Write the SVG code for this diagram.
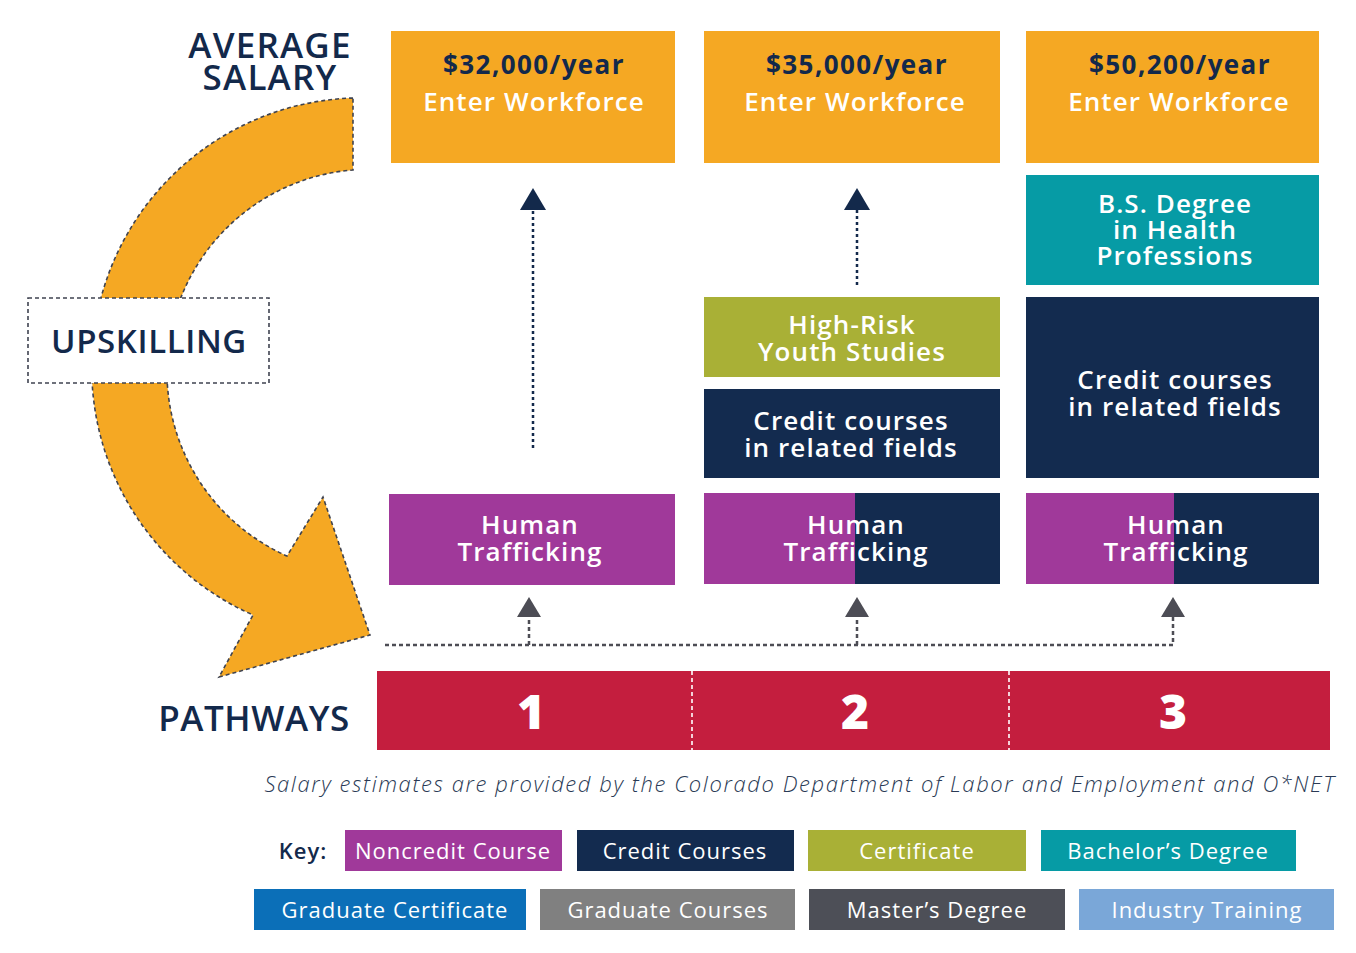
<svg xmlns="http://www.w3.org/2000/svg" width="1356" height="953" viewBox="0 0 1356 953">
<style>
text{font-family:"Open Sans","Liberation Sans",sans-serif;}
.head{fill:#13294B;font-size:35px;font-weight:600;text-anchor:middle;letter-spacing:1.2px}
.w{fill:#fff;font-size:26px;font-weight:600;text-anchor:middle;letter-spacing:1.1px}
.wb{fill:#13294B;font-size:26px;font-weight:700;text-anchor:middle;letter-spacing:1.4px}
.num{fill:#fff;font-size:48px;font-weight:800;text-anchor:middle}
.key{fill:#fff;font-size:22px;font-weight:500;text-anchor:middle;letter-spacing:1px}
.dash{fill:none;stroke:#3F4350;stroke-width:1.6;stroke-dasharray:4 3}
.gline{fill:none;stroke:#4D4D55;stroke-width:2.5;stroke-dasharray:4 3}
.nline{fill:none;stroke:#13294B;stroke-width:2.5;stroke-dasharray:3 3}
</style>
<rect width="1356" height="953" fill="#fff"/>

<g id="upskill-arrow">
<path d="M353,98 A270,270 0 0 0 253,615 L219,677 L370,635 L323,497 L287,556 A202,202 0 0 1 353,170 Z" class="dash" style="fill:#F5A823"/>
</g>
<g id="upskilling">
<rect x="28" y="298" width="241" height="85" class="dash" style="fill:#fff"/>
<text x="149" y="353" class="head" style="font-size:33px;letter-spacing:0.6px">UPSKILLING</text>
</g>
<g id="labels">
<text x="270" y="58" class="head">AVERAGE</text>
<text x="270" y="90" class="head">SALARY</text>
<text x="254" y="731" class="head" style="letter-spacing:0.6px">PATHWAYS</text>
</g>

<g id="salary1"><rect x="391" y="31" width="284" height="132" fill="#F5A823"/>
<text x="534" y="74" class="wb">$32,000/year</text><text x="534" y="111" class="w">Enter Workforce</text></g>
<g id="salary2"><rect x="704" y="31" width="296" height="132" fill="#F5A823"/>
<text x="857" y="74" class="wb">$35,000/year</text><text x="855" y="111" class="w">Enter Workforce</text></g>
<g id="salary3"><rect x="1026" y="31" width="293" height="132" fill="#F5A823"/>
<text x="1180" y="74" class="wb">$50,200/year</text><text x="1179" y="111" class="w">Enter Workforce</text></g>

<g id="bs-degree"><rect x="1026" y="175" width="293" height="110" fill="#069BA5"/>
<text x="1175" y="213" class="w">B.S. Degree</text><text x="1175" y="239" class="w">in Health</text><text x="1175" y="265" class="w">Professions</text></g>

<g id="hrys"><rect x="704" y="297" width="296" height="80" fill="#A9B036"/>
<text x="852" y="334" class="w">High-Risk</text><text x="852" y="361" class="w">Youth Studies</text></g>

<g id="credit2"><rect x="704" y="389" width="296" height="89" fill="#132B4F"/>
<text x="851" y="430" class="w">Credit courses</text><text x="851" y="457" class="w">in related fields</text></g>

<g id="credit3"><rect x="1026" y="297" width="293" height="181" fill="#132B4F"/>
<text x="1175" y="389" class="w">Credit courses</text><text x="1175" y="416" class="w">in related fields</text></g>

<g id="ht1"><rect x="389" y="494" width="286" height="91" fill="#A0399A"/>
<text x="530" y="534" class="w">Human</text><text x="530" y="561" class="w">Trafficking</text></g>
<g id="ht2"><rect x="704" y="493" width="151" height="91" fill="#A0399A"/><rect x="855" y="493" width="145" height="91" fill="#132B4F"/>
<text x="856" y="534" class="w">Human</text><text x="856" y="561" class="w">Trafficking</text></g>
<g id="ht3"><rect x="1026" y="493" width="148" height="91" fill="#A0399A"/><rect x="1174" y="493" width="145" height="91" fill="#132B4F"/>
<text x="1176" y="534" class="w">Human</text><text x="1176" y="561" class="w">Trafficking</text></g>

<g id="connectors">
<path class="nline" d="M533,448 V210"/><polygon points="533,188 520,210 546,210" fill="#13294B"/>
<path class="nline" d="M857,285 V210"/><polygon points="857,188 844,210 870,210" fill="#13294B"/>
<path class="gline" d="M385,645 H1173 V617 M529,645 V617 M857,645 V617"/>
<polygon points="529,597 517,617 541,617" fill="#4D4D55"/>
<polygon points="857,597 845,617 869,617" fill="#4D4D55"/>
<polygon points="1173,597 1161,617 1185,617" fill="#4D4D55"/>
</g>

<g id="pathways">
<rect x="377" y="671" width="953" height="79" fill="#C41E3E"/>
<path d="M692,671 V750 M1009,671 V750" stroke="#fff" stroke-width="1.6" stroke-dasharray="4 3" fill="none"/>
<text x="531" y="729" class="num">1</text><text x="855" y="729" class="num">2</text><text x="1173" y="729" class="num">3</text>
</g>

<text id="caption" x="800" y="792" text-anchor="middle" style="font-size:22px;font-style:italic;font-weight:300;fill:#2A3A55;letter-spacing:1.6px">Salary estimates are provided by the Colorado Department of Labor and Employment and O*NET</text>

<g id="key">
<text x="303" y="859" text-anchor="middle" style="font-size:22px;font-weight:600;fill:#13294B;letter-spacing:1px">Key:</text>
<rect x="345" y="830" width="217" height="41" fill="#A0399A"/><text x="453" y="859" class="key">Noncredit Course</text>
<rect x="577" y="830" width="217" height="41" fill="#132B4F"/><text x="685" y="859" class="key">Credit Courses</text>
<rect x="808" y="830" width="218" height="41" fill="#A9B036"/><text x="917" y="859" class="key">Certificate</text>
<rect x="1041" y="830" width="255" height="41" fill="#069BA5"/><text x="1168" y="859" class="key">Bachelor’s Degree</text>
<rect x="254" y="889" width="272" height="41" fill="#0B6FB8"/><text x="395" y="918" class="key">Graduate Certificate</text>
<rect x="540" y="889" width="255" height="41" fill="#808080"/><text x="668" y="918" class="key">Graduate Courses</text>
<rect x="809" y="889" width="256" height="41" fill="#4D4F57"/><text x="937" y="918" class="key">Master’s Degree</text>
<rect x="1079" y="889" width="255" height="41" fill="#7AA7D8"/><text x="1207" y="918" class="key">Industry Training</text>
</g>
</svg>
